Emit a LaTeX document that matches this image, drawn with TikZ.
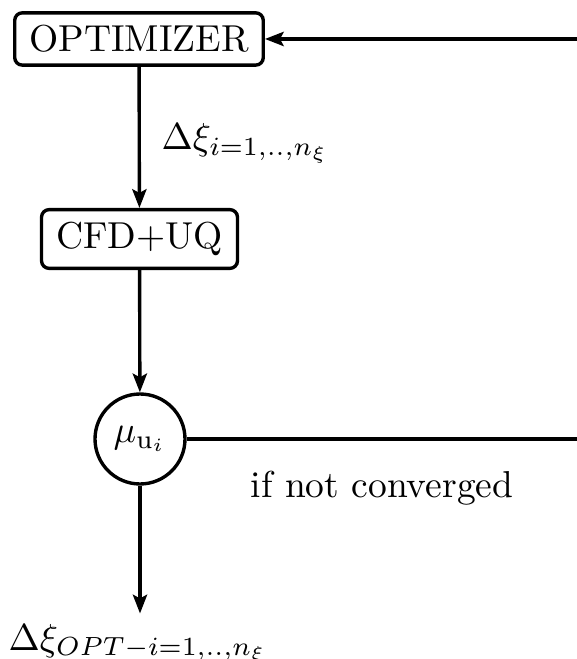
\documentclass[tikz,border=0pt]{standalone}
\usetikzlibrary{arrows.meta}
\begin{document}
\begin{tikzpicture}[x=0.2667pt,y=-0.2667pt,
  every path/.style={line width=0.9pt},
  arr/.style={-{Stealth[length=5pt,width=3.8pt,inset=1pt]}},
  procbox/.style={draw,line width=0.9pt,rounded corners=2pt,inner xsep=3.9pt},
  decision/.style={draw,circle,line width=0.9pt,minimum size=24pt,inner sep=1pt},
  lbl/.style={inner sep=0pt}]
\useasboundingbox (0,0) rectangle (576,659);
\node[procbox] (opt) at (139,39) {OPTIMIZER};
\node[procbox] (cfd) at (139.5,239) {CFD+UQ};
\node[decision] (mu) at (140,439) {$\mu_{\mathrm{u}_i}$};
\node[anchor=base,inner xsep=0pt,inner ysep=2.4pt,text height=6.9pt,text depth=0pt] (out) at (138,650) {$\Delta\xi_{OPT-i=1,..,n_\xi}$};
\node[lbl,anchor=base west] (dxi) at (160,150) {$\Delta\xi_{i=1,..,n_\xi}$};
\node[lbl,anchor=base west] (nc) at (249,497) {if not converged};
\coordinate (r1) at (595,439);
\coordinate (r2) at (595,39);
\draw[arr] (opt) -- (cfd);
\draw[arr] (cfd) -- (mu);
\draw[arr] (mu) -- (mu |- out.north);
\draw[arr] (mu.east) -- (r1) -- (r2) -- (opt.east);
\end{tikzpicture}
\end{document}
